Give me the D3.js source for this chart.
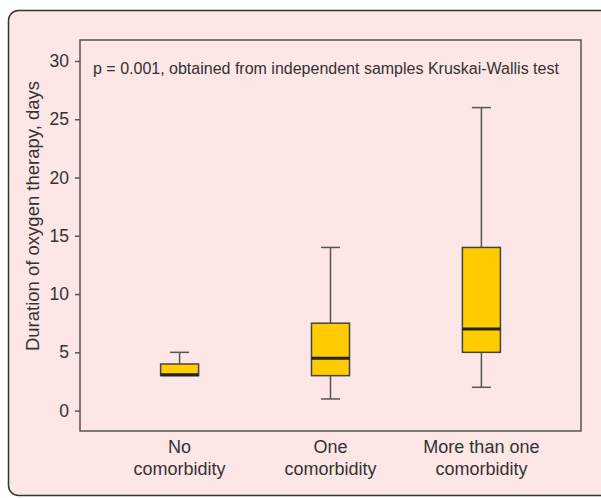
<!DOCTYPE html>
<html>
<head>
<meta charset="utf-8">
<script src="https://cdn.jsdelivr.net/npm/d3@7"></script>
<style>
  body { margin: 0; background: #fff; }
  svg { display: block; font-family: 'Liberation Sans', Arial, sans-serif; }
</style>
</head>
<body>
<svg id="chart" width="601" height="498"></svg>
<script>
// groups and their box statistics (days)
const groups = ['No comorbidity', 'One comorbidity', 'More than one comorbidity']
const groupLines = [['No', 'comorbidity'], ['One', 'comorbidity'], ['More than one', 'comorbidity']]
const whiskerLow = [3, 1, 2]
const q1 = [3, 3, 5]
const median = [3, 4.5, 7]
const q3 = [4, 7.5, 14]
const whiskerHigh = [5, 14, 26]
const yTicks = [0, 5, 10, 15, 20, 25, 30]
const note = 'p = 0.001, obtained from independent samples Kruskai-Wallis test'

const svg = d3.select('#chart')
const plot = { left: 80, right: 581, top: 40, bottom: 431 }

// outer pink card, right side runs off the page
svg.append('rect')
  .attr('x', 8.5).attr('y', 10.5)
  .attr('width', 620).attr('height', 485)
  .attr('rx', 10)
  .attr('fill', '#fde6e6')
  .attr('stroke', '#333')
  .attr('stroke-width', 1.5)

const x = d3.scalePoint()
  .domain(groups)
  .range([plot.left, plot.right])
  .padding(0.66)

const y = d3.scaleLinear()
  .domain([-1.75, 31.8])
  .range([plot.bottom, plot.top])

// frame
svg.append('rect')
  .attr('x', plot.left).attr('y', plot.top)
  .attr('width', plot.right - plot.left)
  .attr('height', plot.bottom - plot.top)
  .attr('fill', 'none')
  .attr('stroke', '#555')
  .attr('stroke-width', 1.5)

const yAxis = svg.append('g')
  .attr('transform', `translate(${plot.left},0)`)
  .call(d3.axisLeft(y).tickValues(yTicks).tickSize(5).tickPadding(6))
yAxis.select('.domain').remove()
yAxis.selectAll('line').attr('stroke', '#555').attr('stroke-width', 1.5)
yAxis.selectAll('text')
  .attr('fill', '#333')
  .style('font-size', '17.5px')
  .style('font-family', "'Liberation Sans', Arial, sans-serif")

svg.append('text')
  .attr('transform', 'translate(38.5,216) rotate(-90)')
  .attr('text-anchor', 'middle')
  .attr('fill', '#333')
  .style('font-size', '18.5px')
  .text('Duration of oxygen therapy, days')

svg.append('text')
  .attr('x', 93).attr('y', 74)
  .attr('fill', '#333')
  .style('font-size', '16px')
  .text(note)

const boxW = 38
const capW = 19

const boxes = svg.append('g')
  .selectAll('g')
  .data(groups)
  .join('g')

boxes.append('line')
  .attr('x1', d => x(d)).attr('x2', d => x(d))
  .attr('y1', (d, i) => y(whiskerHigh[i])).attr('y2', (d, i) => y(q3[i]))
  .attr('stroke', '#555').attr('stroke-width', 1.5)
boxes.append('line')
  .attr('x1', d => x(d)).attr('x2', d => x(d))
  .attr('y1', (d, i) => y(whiskerLow[i])).attr('y2', (d, i) => y(q1[i]))
  .attr('stroke', '#555').attr('stroke-width', 1.5)
boxes.append('line')
  .attr('x1', d => x(d) - capW / 2).attr('x2', d => x(d) + capW / 2)
  .attr('y1', (d, i) => y(whiskerHigh[i])).attr('y2', (d, i) => y(whiskerHigh[i]))
  .attr('stroke', '#555').attr('stroke-width', 1.5)
boxes.append('line')
  .attr('x1', d => x(d) - capW / 2).attr('x2', d => x(d) + capW / 2)
  .attr('y1', (d, i) => y(whiskerLow[i])).attr('y2', (d, i) => y(whiskerLow[i]))
  .attr('stroke', '#555').attr('stroke-width', 1.5)
  .attr('display', (d, i) => whiskerLow[i] === q1[i] ? 'none' : null)

boxes.append('rect')
  .attr('x', d => x(d) - boxW / 2)
  .attr('y', (d, i) => y(q3[i]))
  .attr('width', boxW)
  .attr('height', (d, i) => y(q1[i]) - y(q3[i]))
  .attr('fill', '#ffcc00')
  .attr('stroke', '#444')
  .attr('stroke-width', 1.5)

boxes.append('line')
  .attr('x1', d => x(d) - boxW / 2).attr('x2', d => x(d) + boxW / 2)
  .attr('y1', (d, i) => y(median[i]) - (median[i] === q1[i] ? 1 : 0))
  .attr('y2', (d, i) => y(median[i]) - (median[i] === q1[i] ? 1 : 0))
  .attr('stroke', '#222').attr('stroke-width', 3)

// category labels, two lines each
const labels = svg.append('g')
  .selectAll('text')
  .data(groups)
  .join('text')
  .attr('text-anchor', 'middle')
  .attr('fill', '#333')
  .style('font-size', '18px')
  .attr('y', 453)

labels.selectAll('tspan')
  .data((d, i) => groupLines[i].map(t => ({ t, cx: x(d) })))
  .join('tspan')
  .attr('x', d => d.cx)
  .attr('dy', (d, j) => j === 0 ? 0 : 22)
  .text(d => d.t)
</script>
</body>
</html>
